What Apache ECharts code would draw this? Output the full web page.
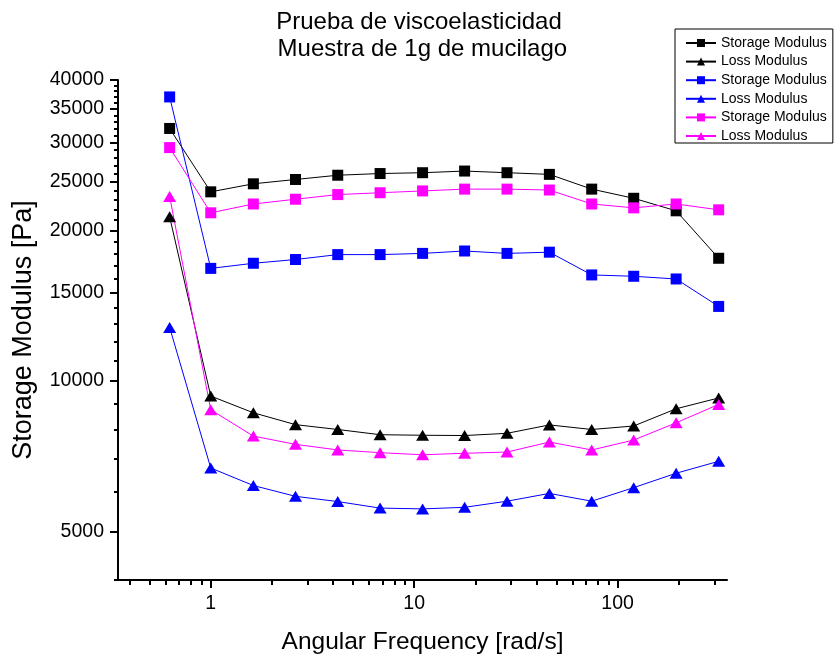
<!DOCTYPE html>
<html>
<head>
<meta charset="utf-8">
<script src="https://cdn.jsdelivr.net/npm/echarts@6/dist/echarts.min.js"></script>
<style>
  html, body { margin: 0; background: #fff; }
  #chart { width: 835px; height: 662px; }
</style>
</head>
<body>
<div id="chart"></div>
<script>
// angular frequency [rad/s]
const freq = [0.628, 1, 1.62, 2.61, 4.21, 6.8, 11, 17.7, 28.6, 46.2, 74.6, 120, 194, 314];

// black sample
const storageBlack = [32000, 23900, 24800, 25300, 25800, 26000, 26100, 26300, 26100, 25900, 24200, 23200, 21900, 17600];
const lossBlack = [21300, 9330, 8640, 8180, 8000, 7810, 7790, 7780, 7860, 8170, 8000, 8130, 8800, 9250];
// blue sample
const storageBlue = [37000, 16800, 17200, 17500, 17900, 17900, 18000, 18200, 18000, 18100, 16300, 16200, 16000, 14100];
const lossBlue = [12800, 6700, 6180, 5880, 5740, 5570, 5550, 5590, 5750, 5960, 5750, 6120, 6540, 6910];
// magenta sample
const storageMagenta = [29300, 21700, 22600, 23100, 23600, 23800, 24000, 24200, 24200, 24100, 22600, 22200, 22600, 22000];
const lossMagenta = [23400, 8760, 7760, 7470, 7280, 7190, 7120, 7170, 7210, 7550, 7280, 7620, 8250, 8980];

const legendNames = ['Storage Modulus', 'Loss Modulus', 'Storage Modulus', 'Loss Modulus', 'Storage Modulus', 'Loss Modulus'];

const xMajorTicks = [1, 10, 100];
const xMinorTicks = [0.4, 0.5, 0.6, 0.7, 0.8, 0.9, 2, 3, 4, 5, 6, 7, 8, 9, 20, 30, 40, 50, 60, 70, 80, 90, 200, 300];
const yMajorTicks = [5000, 10000, 15000, 20000, 25000, 30000, 35000, 40000];
const yMinorTicks = [4000, 6000, 7000, 8000, 9000, 11000, 12000, 13000, 14000, 16000, 17000, 18000, 19000,
  21000, 22000, 23000, 24000, 26000, 27000, 28000, 29000, 31000, 32000, 33000, 34000, 36000, 37000, 38000, 39000];

const FONT = 'Liberation Sans, Arial, sans-serif';

function makeSeries(id, color, symbol, values) {
  return {
    name: 's' + id,
    type: 'line',
    data: freq.map((f, i) => [f, values[i]]),
    symbol: symbol,
    symbolSize: symbol === 'triangle' ? [13, 11] : 11,
    itemStyle: { color: color },
    lineStyle: { color: color, width: 1 },
    emphasis: { disabled: true },
    z: 3
  };
}

const series = [
  makeSeries(0, '#000000', 'rect', storageBlack),
  makeSeries(1, '#000000', 'triangle', lossBlack),
  makeSeries(2, '#0000ff', 'rect', storageBlue),
  makeSeries(3, '#0000ff', 'triangle', lossBlue),
  makeSeries(4, '#ff00ff', 'rect', storageMagenta),
  makeSeries(5, '#ff00ff', 'triangle', lossMagenta)
];

const chart = echarts.init(document.getElementById('chart'));
chart.setOption({
  animation: false,
  backgroundColor: '#fff',
  textStyle: { fontFamily: FONT },
  title: {
    text: 'Prueba de viscoelasticidad\n Muestra de 1g de mucilago',
    left: 414,
    textAlign: 'center',
    top: 4,
    textStyle: { fontFamily: FONT, fontSize: 24, fontWeight: 'normal', color: '#000', lineHeight: 27 }
  },
  legend: {
    orient: 'vertical',
    left: 675,
    top: 29,
    padding: [7, 6, 0, 10],
    itemWidth: 30,
    itemHeight: 10,
    itemGap: 4.6,
    borderColor: '#000',
    borderWidth: 1,
    formatter: name => legendNames[Number(name.slice(1))],
    textStyle: { fontFamily: FONT, fontSize: 14, color: '#000' }
  },
  grid: { left: 118, right: 108, top: 80, bottom: 82 },
  xAxis: [{
    type: 'log',
    min: 0.35,
    max: 345,
    name: 'Angular Frequency [rad/s]',
    nameLocation: 'middle',
    nameGap: 50,
    nameTextStyle: { fontFamily: FONT, fontSize: 24.5, color: '#000' },
    axisLine: { lineStyle: { color: '#000', width: 2 } },
    axisTick: { inside: false, length: 8, customValues: xMajorTicks, lineStyle: { color: '#000', width: 2 } },
    axisLabel: { customValues: xMajorTicks, margin: 14, fontFamily: FONT, fontSize: 19.5, color: '#000', formatter: v => String(v) },
    splitLine: { show: false }
  }, {
    type: 'log',
    min: 0.35,
    max: 345,
    position: 'bottom',
    axisLine: { show: false },
    axisTick: { inside: false, length: 5, customValues: xMinorTicks, lineStyle: { color: '#000', width: 2 } },
    axisLabel: { show: false },
    splitLine: { show: false }
  }],
  yAxis: [{
    type: 'log',
    min: 4000,
    max: 40000,
    name: 'Storage Modulus [Pa]',
    nameLocation: 'middle',
    nameGap: 81,
    nameTextStyle: { fontFamily: FONT, fontSize: 27, color: '#000' },
    axisLine: { lineStyle: { color: '#000', width: 2 } },
    axisTick: { inside: false, length: 8, customValues: yMajorTicks, lineStyle: { color: '#000', width: 2 } },
    axisLabel: { customValues: yMajorTicks, margin: 14, fontFamily: FONT, fontSize: 19.5, color: '#000', formatter: v => String(v) },
    splitLine: { show: false }
  }, {
    type: 'log',
    min: 4000,
    max: 40000,
    position: 'left',
    axisLine: { show: false },
    axisTick: { inside: false, length: 4, customValues: yMinorTicks, lineStyle: { color: '#000', width: 2 } },
    axisLabel: { show: false },
    splitLine: { show: false }
  }],
  series: series
});
</script>
</body>
</html>
